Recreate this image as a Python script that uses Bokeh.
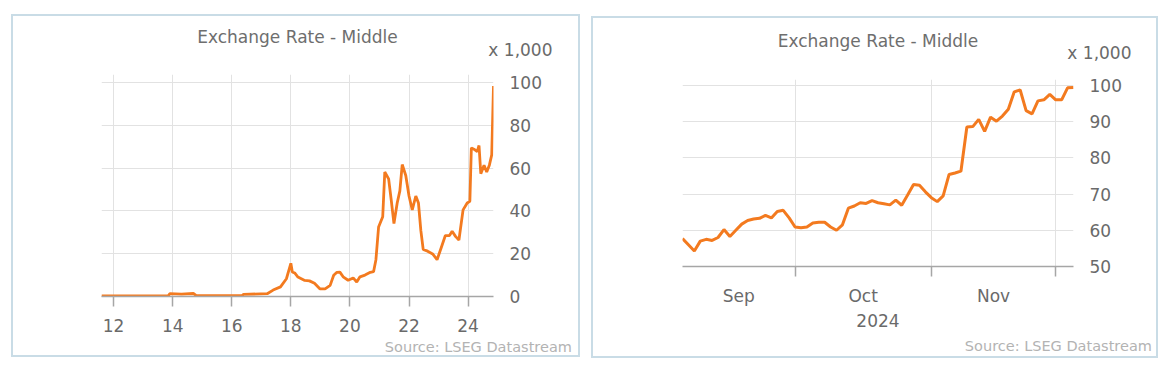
import numpy as np
import pandas as pd
from bokeh.plotting import figure
from bokeh.models import FixedTicker, Range1d, Title, LinearAxis, Spacer
from bokeh.layouts import row, column
from bokeh.embed import file_html
from bokeh.resources import INLINE

# ---------------- data ----------------
title_text = "Exchange Rate - Middle"
unit_text = "x 1,000"
source_text = "Source:  LSEG Datastream"

# Left panel: long history (x = two-digit year, decimal)
long_years = [11.59, 13.85, 13.9, 14.3, 14.7, 14.8, 16.35, 16.4, 17.2, 17.4, 17.65, 17.85,
              18.0, 18.05, 18.13, 18.24, 18.47, 18.63, 18.8, 18.98, 19.16, 19.33, 19.45,
              19.56, 19.66, 19.77, 19.94, 20.11, 20.23, 20.34, 20.51, 20.69, 20.8, 20.88,
              20.97, 21.11, 21.18, 21.31, 21.41, 21.49, 21.6, 21.69, 21.77, 21.89, 22.0,
              22.11, 22.23, 22.32, 22.4, 22.48, 22.63, 22.8, 22.95, 23.09, 23.23, 23.37,
              23.46, 23.58, 23.69, 23.83, 23.97, 24.06, 24.11, 24.23, 24.31, 24.37, 24.43,
              24.54, 24.63, 24.72, 24.8, 24.86]
long_values = [0.3, 0.3, 1.3, 1.1, 1.4, 0.4, 0.4, 1.0, 1.3, 3.0, 4.5, 8.3,
               15.5, 11.5, 11.0, 9.1, 7.5, 7.3, 6.2, 3.6, 3.6, 5.2, 9.9,
               11.3, 11.4, 9.2, 7.6, 8.7, 6.8, 9.2, 10.0, 11.3, 11.6, 17.2,
               32.5, 37.3, 58.2, 55.0, 43.7, 34.1, 43.7, 49.4, 61.7, 56.6, 47.0,
               40.5, 47.0, 43.7, 30.9, 22.0, 21.2, 19.9, 17.2, 22.8, 28.5, 28.5,
               30.5, 28.0, 26.4, 40.5, 43.7, 44.5, 69.5, 68.6, 67.8, 70.6, 57.4,
               61.4, 58.2, 61.4, 66.2, 98.4]
long_xticks = [12, 14, 16, 18, 20, 22, 24]
long_yticks = [0, 20, 40, 60, 80, 100]

# Right panel: Sep-Dec 2024, business days
short_start = "2024-09-04"
short_end = "2024-12-05"
short_values = [57.7, 56.0, 54.3, 57.0, 57.5, 57.2, 58.0, 60.2, 58.3, 60.0,
                61.7, 62.7, 63.1, 63.3, 64.1, 63.4, 65.2, 65.5, 63.4, 60.9,
                60.7, 60.9, 62.0, 62.2, 62.2, 60.9, 60.0, 61.5, 66.1, 66.7,
                67.6, 67.4, 68.2, 67.6, 67.3, 67.0, 68.3, 66.9, 69.7, 72.6,
                72.4, 70.6, 69.0, 67.9, 69.5, 75.4, 75.8, 76.3, 88.5, 88.6,
                90.6, 87.3, 91.2, 90.1, 91.5, 93.4, 98.2, 98.7, 93.0, 92.1,
                95.7, 96.0, 97.5, 96.0, 96.0, 99.3, 99.4]
short_yticks = [50, 60, 70, 80, 90, 100]
month_names = ["Sep", "Oct", "Nov"]
year_text = "2024"

# ---------------- styles ----------------
FONT = "DejaVu Sans"
ORANGE = "#f37a1f"
GRID = "#e2e2e2"
AXIS = "#a6a6a6"
TICKTXT = "#6a6a6a"
TITLETXT = "#6e6e6e"
SRCTXT = "#b3b3b3"
BORDER = "2px solid #c9dce6"


def style(p, xstandoff):
    p.outline_line_color = None
    p.background_fill_color = "white"
    p.border_fill_color = "white"
    p.xgrid.grid_line_color = GRID
    p.ygrid.grid_line_color = GRID
    for ax in p.xaxis:
        ax.axis_line_color = AXIS
        ax.axis_line_width = 1.5
        ax.major_tick_line_color = AXIS
        ax.major_tick_line_width = 1.5
        ax.major_tick_in = 0
        ax.major_tick_out = 10
        ax.minor_tick_line_color = None
        ax.major_label_text_font = FONT
        ax.major_label_text_font_size = "17px"
        ax.major_label_text_color = TICKTXT
        ax.major_label_standoff = xstandoff
    for ax in p.yaxis:
        ax.axis_line_color = None
        ax.major_tick_line_color = None
        ax.minor_tick_line_color = None
        ax.major_label_text_font = FONT
        ax.major_label_text_font_size = "17px"
        ax.major_label_text_color = TICKTXT
        ax.major_label_standoff = 10


def add_titles(p, unit_offset, unit_standoff, title_standoff):
    p.add_layout(Title(text=unit_text, align="right", offset=unit_offset, standoff=unit_standoff,
                       text_font=FONT, text_font_size="17px", text_font_style="normal",
                       text_color=TICKTXT), "above")
    p.add_layout(Title(text=title_text, align="center", standoff=title_standoff,
                       text_font=FONT, text_font_size="17px", text_font_style="normal",
                       text_color=TITLETXT), "above")


def add_source(p, src_offset, standoff):
    p.add_layout(Title(text=source_text, align="right", offset=src_offset, standoff=standoff,
                       text_font=FONT, text_font_size="14.5px", text_font_style="normal",
                       text_color=SRCTXT), "below")


# ---------------- left figure ----------------
p1 = figure(width=569, height=343, output_backend="svg", toolbar_location=None, title=None,
            x_range=Range1d(11.59, 24.86), y_range=Range1d(0, 103.8),
            y_axis_location="right",
            min_border_left=88, min_border_right=89, min_border_top=58, min_border_bottom=63)
p1.line(long_years, long_values, line_color=ORANGE, line_width=2.8)
p1.xaxis.ticker = FixedTicker(ticks=long_xticks)
p1.yaxis.ticker = FixedTicker(ticks=long_yticks)
p1.xgrid.ticker = FixedTicker(ticks=long_xticks)
p1.ygrid.ticker = FixedTicker(ticks=long_yticks)
style(p1, 12)
add_titles(p1, -59, 30, -49)
add_source(p1, -83, 4)
p1.styles = {"border": BORDER, "box-sizing": "border-box"}

# ---------------- right figure ----------------
dates = pd.bdate_range(short_start, short_end)
idx = np.arange(len(dates))
first_of_month = [int(i) for i in idx[1:][dates.month[1:] != dates.month[:-1]]]
x0, x1 = 0, int(idx[-1])
bounds = [x0] + first_of_month + [x1]
month_centers = [float((bounds[k] + bounds[k + 1]) / 2) for k in range(len(month_names))]

p2 = figure(width=567, height=342, output_backend="svg", toolbar_location=None, title=None,
            x_range=Range1d(x0, x1), y_range=Range1d(50, 101.6),
            y_axis_location="right",
            min_border_left=89, min_border_right=87, min_border_top=61, min_border_bottom=88)
p2.line(idx, short_values, line_color=ORANGE, line_width=3)
p2.xaxis.ticker = FixedTicker(ticks=first_of_month)
p2.xgrid.ticker = FixedTicker(ticks=first_of_month)
p2.yaxis.ticker = FixedTicker(ticks=short_yticks)
p2.ygrid.ticker = FixedTicker(ticks=short_yticks)
style(p2, 0)
p2.xaxis.major_label_overrides = {t: "" for t in first_of_month}
p2.xaxis.major_label_text_font_size = "1px"

month_axis = LinearAxis(ticker=FixedTicker(ticks=month_centers),
                        major_label_overrides={c: n for c, n in zip(month_centers, month_names)},
                        axis_line_color=None, major_tick_line_color=None,
                        minor_tick_line_color=None, major_tick_in=0, major_tick_out=0,
                        major_label_standoff=9, major_label_text_font=FONT,
                        major_label_text_font_size="17px", major_label_text_color=TICKTXT)
p2.add_layout(month_axis, "below")
p2.add_layout(Title(text=year_text, align="center", standoff=6,
                    text_font=FONT, text_font_size="17px", text_font_style="normal",
                    text_color=TICKTXT), "below")
add_titles(p2, -58, 34, -54)
add_source(p2, -83, 13)
p2.styles = {"border": BORDER, "box-sizing": "border-box"}

layout = row(Spacer(width=11), column(Spacer(height=14), p1),
             Spacer(width=11), column(Spacer(height=16), p2))
open("out.html", "w").write(file_html(layout, INLINE))
